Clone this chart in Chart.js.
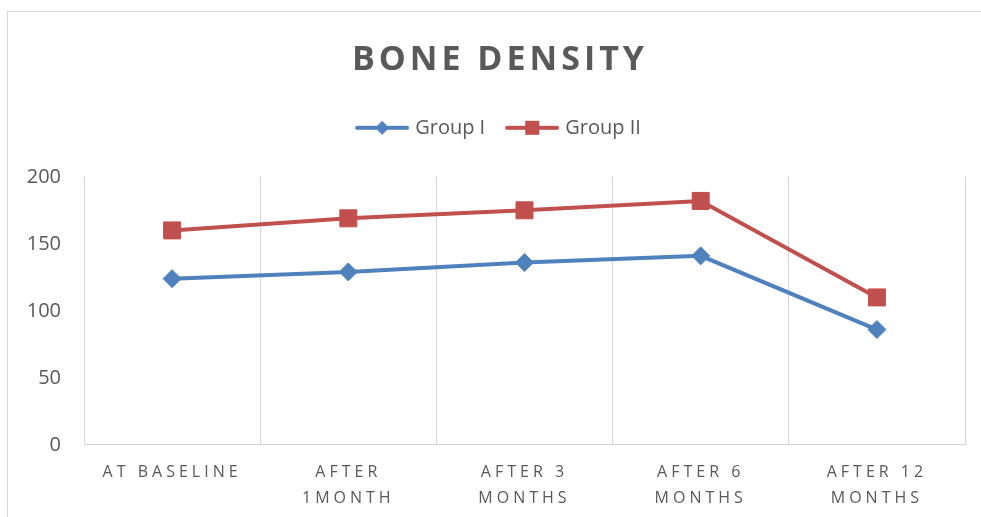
<!DOCTYPE html>
<html>
<head>
<meta charset="utf-8">
<script src="https://cdn.jsdelivr.net/npm/chart.js@4.4.1/dist/chart.umd.min.js"></script>
<style>
  html, body { margin: 0; padding: 0; background: #fff; overflow: hidden; width: 981px; height: 517px; }
  #frame { position: absolute; left: 7px; top: 11px; width: 984px; height: 520px; border: 1px solid #d9d9d9; }
  canvas { display: block; }
</style>
</head>
<body>
<div id="frame"><canvas id="densityChart" width="984" height="520"></canvas></div>
<script>
// data
const categories = [['AT BASELINE'], ['AFTER', '1MONTH'], ['AFTER 3', 'MONTHS'], ['AFTER 6', 'MONTHS'], ['AFTER 12', 'MONTHS']];
const groupOne = [124, 129, 136, 141, 86];
const groupTwo = [160, 169, 175, 182, 110];
const yTicks = [0, 50, 100, 150, 200];

const BLUE = '#4f81bd';
const RED = '#c0504d';
const TEXT = '#595959';
const GRID = '#d5d5d5';
const FONT = "'Open Sans', sans-serif";

// legend swatch: line with the marker on top, like Excel
function legendSwatch(color, style) {
    const c = document.createElement('canvas');
    c.width = 54;
    c.height = 20;
    const g = c.getContext('2d');
    g.strokeStyle = color;
    g.lineWidth = 4;
    g.lineCap = 'round';
    g.beginPath();
    g.moveTo(2, 10);
    g.lineTo(52, 10);
    g.stroke();
    g.fillStyle = color;
    if (style === 'diamond') {
        g.beginPath();
        g.moveTo(27, 3);
        g.lineTo(34, 10);
        g.lineTo(27, 17);
        g.lineTo(20, 10);
        g.closePath();
        g.fill();
    } else {
        g.fillRect(20, 3, 14, 14);
    }
    return c;
}

// Excel spreads letters of title and category labels
const letterSpacing = {
    id: 'letterSpacing',
    beforeDraw(chart) {
        const ctx = chart.ctx;
        const title = chart.titleBlock;
        if (title && !title._spaced) {
            const draw = title.draw;
            title.draw = function() {
                ctx.save();
                ctx.letterSpacing = '4px';
                draw.apply(this, arguments);
                ctx.restore();
            };
            title._spaced = true;
        }
        const x = chart.scales.x;
        if (x && !x._spaced) {
            const drawLabels = x.drawLabels;
            x.drawLabels = function() {
                ctx.save();
                ctx.letterSpacing = '4px';
                drawLabels.apply(this, arguments);
                ctx.restore();
            };
            x._spaced = true;
        }
    }
};

const ctx = document.getElementById('densityChart').getContext('2d');
new Chart(ctx, {
    type: 'line',
    data: {
        labels: categories,
        datasets: [{
            label: 'Group I',
            data: groupOne,
            borderColor: BLUE,
            backgroundColor: BLUE,
            borderWidth: 4,
            pointStyle: 'rectRot',
            pointRadius: 9,
            pointBorderWidth: 1,
            pointHoverRadius: 9,
            tension: 0
        }, {
            label: 'Group II',
            data: groupTwo,
            borderColor: RED,
            backgroundColor: RED,
            borderWidth: 4,
            pointStyle: 'rect',
            pointRadius: 12,
            pointBorderWidth: 1,
            pointHoverRadius: 12,
            tension: 0
        }]
    },
    options: {
        responsive: false,
        animation: false,
        devicePixelRatio: 1,
        layout: { padding: { left: 0, right: 0, top: 0, bottom: 6 } },
        plugins: {
            title: {
                display: true,
                text: 'BONE DENSITY',
                color: TEXT,
                font: { family: FONT, size: 34, weight: 'bold' },
                padding: { top: 28, bottom: 13 }
            },
            legend: {
                display: true,
                position: 'top',
                labels: {
                    color: TEXT,
                    font: { family: FONT, size: 20 },
                    usePointStyle: true,
                    pointStyleWidth: 46,
                    padding: 24,
                    generateLabels: function(chart) {
                        return [
                            { text: 'Group I', pointStyle: legendSwatch(BLUE, 'diamond'), fillStyle: BLUE, strokeStyle: BLUE, lineWidth: 0, fontColor: TEXT, datasetIndex: 0, hidden: false },
                            { text: 'Group II', pointStyle: legendSwatch(RED, 'square'), fillStyle: RED, strokeStyle: RED, lineWidth: 0, fontColor: TEXT, datasetIndex: 1, hidden: false }
                        ];
                    }
                }
            },
            tooltip: { enabled: false }
        },
        scales: {
            x: {
                offset: true,
                grid: { display: true, offset: true, color: GRID, lineWidth: 1, drawTicks: false },
                border: { display: true, color: GRID, width: 1 },
                ticks: {
                    color: TEXT,
                    font: { family: FONT, size: 16, lineHeight: 1.6 },
                    padding: 15,
                    maxRotation: 0,
                    autoSkip: false
                }
            },
            // spacer between legend and plot
            xTop: {
                type: 'linear',
                position: 'top',
                display: true,
                grid: { display: false, drawTicks: false },
                border: { display: false },
                ticks: { display: false },
                afterFit: function(scale) { scale.height = 29; }
            },
            y: {
                min: yTicks[0],
                max: yTicks[yTicks.length - 1],
                grid: { display: false, drawTicks: false },
                border: { display: false },
                ticks: {
                    stepSize: yTicks[1] - yTicks[0],
                    color: TEXT,
                    font: { family: FONT, size: 20 },
                    padding: 23
                },
                afterFit: function(scale) { scale.width = 76; }
            },
            // spacer so the plot stops short of the right frame
            yRight: {
                position: 'right',
                display: true,
                grid: { display: false, drawTicks: false },
                border: { display: false },
                ticks: { display: false },
                afterFit: function(scale) { scale.width = 27; }
            }
        }
    },
    plugins: [letterSpacing]
});
</script>
</body>
</html>
